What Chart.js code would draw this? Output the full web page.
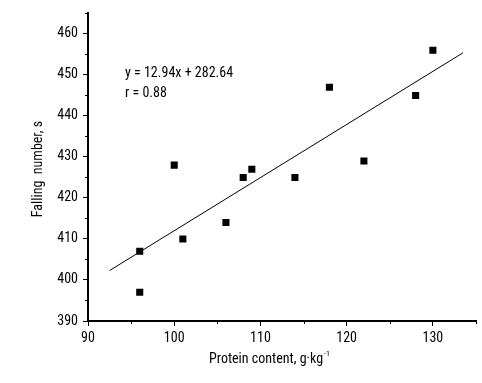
<!DOCTYPE html>
<html>
<head>
<meta charset="utf-8">
<script src="https://cdn.jsdelivr.net/npm/chart.js@4"></script>
<style>
  body { margin: 0; background: #fff; }
  #wrap { width: 482px; height: 383px; }
</style>
</head>
<body>
<div id="wrap"><canvas id="chart" width="482" height="383"></canvas></div>
<script>
// protein content (g/kg) vs falling number (s)
const proteinX = [96, 96, 100, 101, 106, 108, 109, 114, 118, 122, 128, 130];
const fallingY = [407, 397, 428, 410, 414, 425, 427, 425, 447, 429, 445, 456];
// regression line end points
const fitX = [92.5, 133.5];
const fitY = [402.3, 455.4];
const xTicks = [90, 100, 110, 120, 130];
const yTicks = [390, 400, 410, 420, 430, 440, 450, 460];

const eqText = 'y = 12.94x + 282.64';
const rText = 'r = 0.88';
const xTitle = 'Protein content, g·kg';
const xTitleSup = '-1';
const yTitle = 'Falling  number, s';

const FONT = '"Roboto Condensed", "DejaVu Sans Condensed", sans-serif';

const extras = {
  id: 'extras',
  afterDraw(chart) {
    const c = chart.ctx;
    const xs = chart.scales.x, ys = chart.scales.y;
    c.save();
    c.strokeStyle = '#000';
    c.lineWidth = 1;
    // minor ticks
    for (let v = 95; v <= 135; v += 10) {
      const px = Math.round(xs.getPixelForValue(v)) + 0.5;
      c.beginPath(); c.moveTo(px, ys.bottom); c.lineTo(px, ys.bottom + 3); c.stroke();
    }
    for (let v = 395; v <= 465; v += 10) {
      const py = Math.round(ys.getPixelForValue(v)) + 0.5;
      c.beginPath(); c.moveTo(xs.left - 3, py); c.lineTo(xs.left, py); c.stroke();
    }
    c.fillStyle = '#000';
    c.font = '14px ' + FONT;
    c.textBaseline = 'middle';
    c.textAlign = 'left';
    c.fillText(eqText, 125, 73);
    c.fillText(rText, 125, 93);
    // x title
    const w = c.measureText(xTitle).width;
    c.font = '8px ' + FONT;
    const ws = c.measureText(xTitleSup).width;
    const x0 = 269 - (w + ws) / 2;
    c.font = '14px ' + FONT;
    c.fillText(xTitle, x0, 359);
    c.font = '8px ' + FONT;
    c.fillText(xTitleSup, x0 + w + 1, 354);
    // y title
    c.font = '14px ' + FONT;
    c.translate(38, 169);
    c.rotate(-Math.PI / 2);
    c.textAlign = 'center';
    c.fillText(yTitle, 0, 0);
    c.restore();
  }
};

new Chart(document.getElementById('chart'), {
  type: 'scatter',
  data: {
    datasets: [
      {
        data: proteinX.map((x, i) => ({x: x, y: fallingY[i]})),
        pointStyle: 'rect',
        pointRadius: 5,
        borderWidth: 0,
        backgroundColor: '#000',
        borderColor: '#000'
      },
      {
        type: 'line',
        data: fitX.map((x, i) => ({x: x, y: fitY[i]})),
        borderColor: '#000',
        borderWidth: 1,
        pointRadius: 0,
        fill: false
      }
    ]
  },
  options: {
    responsive: false,
    animation: false,
    events: [],
    layout: { padding: { left: 0, top: 2, right: 6, bottom: 0 } },
    plugins: { legend: { display: false }, tooltip: { enabled: false } },
    scales: {
      x: {
        type: 'linear',
        min: 90, max: 135,
        afterFit(s) { s.height = 62; },
        afterBuildTicks(s) { s.ticks = xTicks.map(v => ({value: v})); },
        ticks: { color: '#000', padding: 4, font: { family: FONT, size: 14 } },
        grid: { drawOnChartArea: false, tickLength: 5, tickColor: '#000', tickWidth: 1 },
        border: { display: true, color: '#000', width: 2 }
      },
      y: {
        type: 'linear',
        min: 390, max: 465,
        afterFit(s) { s.width = 88; },
        afterBuildTicks(s) { s.ticks = yTicks.map(v => ({value: v})); },
        ticks: { color: '#000', padding: 5, font: { family: FONT, size: 14 } },
        grid: { drawOnChartArea: false, tickLength: 5, tickColor: '#000', tickWidth: 1 },
        border: { display: true, color: '#000', width: 2 }
      }
    }
  },
  plugins: [extras]
});
</script>
</body>
</html>
